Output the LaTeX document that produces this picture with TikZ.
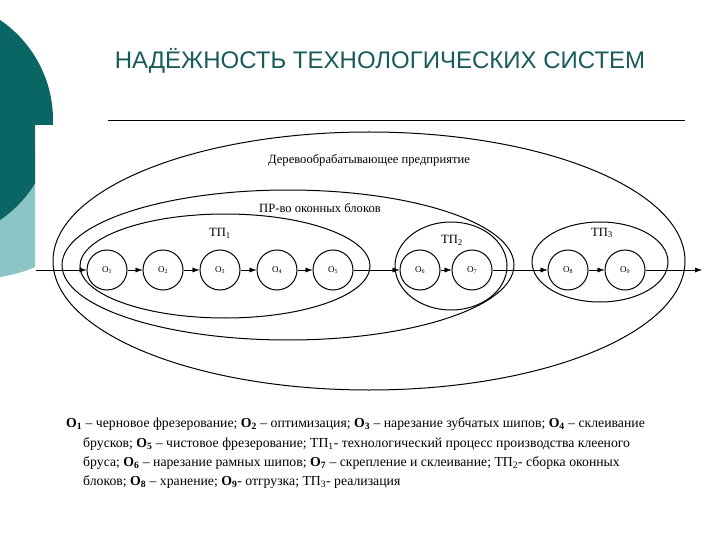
\documentclass[tikz,border=0pt]{standalone}
\usepackage{fontspec}
\setmainfont{Liberation Serif}
\newfontfamily\titlefont{Liberation Sans}
\usetikzlibrary{arrows.meta}

\definecolor{darkteal}{RGB}{10,102,100}
\definecolor{lightteal}{RGB}{140,197,197}
\definecolor{titleteal}{RGB}{25,90,90}

\tikzset{
  oper/.style={draw, circle, line width=1pt, minimum size=40pt, inner sep=0pt, font=\fontsize{9}{10}\selectfont},
  zone/.style={line width=1pt},
  zonelabel/.style={inner sep=0pt, font=\fontsize{12.6}{14}\selectfont},
  legend/.style={anchor=base west, inner sep=0pt, font=\fontsize{13.75}{16}\selectfont}
}

\begin{document}
\begin{tikzpicture}[x=1pt, y=-1pt, >={Latex[length=7pt,width=5pt]}]

  \useasboundingbox (0,0) rectangle (720,540);

  % --- Corner decoration ---
  \fill[lightteal] (0,150) -- (35,150) -- (35,267) .. controls (24,272) and (12,275) .. (0,277) -- cycle;
  \begin{scope}
    \clip (0,0) rectangle (53,125) (0,0) rectangle (35,300);
    \fill[darkteal] (-68,120) circle [radius=121];
  \end{scope}

  % --- Title ---
  \node[font=\titlefont\fontsize{24}{27}\selectfont, text=titleteal] (title) at (380,61) {НАДЁЖНОСТЬ ТЕХНОЛОГИЧЕСКИХ СИСТЕМ};
  \coordinate (ruleL) at (108,120);
  \coordinate (ruleR) at (685,120);
  \draw[line width=0.8pt] (ruleL) -- (ruleR);

  % --- Zones ---
  \draw[zone] (369,261) ellipse [x radius=316, y radius=129];
  \draw[zone] (288,265) ellipse [x radius=226, y radius=75];
  \draw[zone] (225,266) ellipse [x radius=145, y radius=52];
  \draw[zone] (451,266) ellipse [x radius=56, y radius=44];
  \draw[zone] (600,262) ellipse [x radius=68, y radius=40];

  \node[zonelabel] (firm) at (369,160) {Деревообрабатывающее предприятие};
  \node[zonelabel] (plant) at (320,208) {ПР-во оконных блоков};
  \node[zonelabel] (tp1) at (220,233) {ТП\textsubscript{1}};
  \node[zonelabel] (tp2) at (452,240) {ТП\textsubscript{2}};
  \node[zonelabel] (tp3) at (602,233) {ТП\textsubscript{3}};

  % --- Operations ---
  \node[oper] (O1) at (107,270) {O\textsubscript{1}};
  \node[oper] (O2) at (163,270) {O\textsubscript{2}};
  \node[oper] (O3) at (220,270) {O\textsubscript{3}};
  \node[oper] (O4) at (277,270) {O\textsubscript{4}};
  \node[oper] (O5) at (333,270) {O\textsubscript{5}};
  \node[oper] (O6) at (420,270) {O\textsubscript{6}};
  \node[oper] (O7) at (472,270) {O\textsubscript{7}};
  \node[oper] (O8) at (568,270) {O\textsubscript{8}};
  \node[oper] (O9) at (625,270) {O\textsubscript{9}};

  \coordinate (in) at (36,270);
  \coordinate (out) at (702,270);

  % --- Flow ---
  \draw[->] (in) -- (O1);
  \draw[->] (O1) -- (O2);
  \draw[->] (O2) -- (O3);
  \draw[->] (O3) -- (O4);
  \draw[->] (O4) -- (O5);
  \draw[->] (O5) -- (O6);
  \draw[->] (O6) -- (O7);
  \draw[->] (O7) -- (O8);
  \draw[->] (O8) -- (O9);
  \draw[->] (O9) -- (out);

  % --- Legend ---
  \node[legend] (leg1) at (66,427) {\textbf{O\textsubscript{1}} – черновое фрезерование; \textbf{O\textsubscript{2}} – оптимизация; \textbf{O\textsubscript{3}} – нарезание зубчатых шипов; \textbf{O\textsubscript{4}} – склеивание};
  \node[legend] (leg2) at (83,447) {брусков; \textbf{O\textsubscript{5}} – чистовое фрезерование; ТП\textsubscript{1}- технологический процесс производства клееного};
  \node[legend] (leg3) at (83,466) {бруса; \textbf{O\textsubscript{6}} – нарезание рамных шипов; \textbf{O\textsubscript{7}} – скрепление и склеивание; ТП\textsubscript{2}- сборка оконных};
  \node[legend] (leg4) at (83,485) {блоков; \textbf{O\textsubscript{8}} – хранение; \textbf{O\textsubscript{9}}- отгрузка; ТП\textsubscript{3}- реализация};

\end{tikzpicture}
\end{document}
